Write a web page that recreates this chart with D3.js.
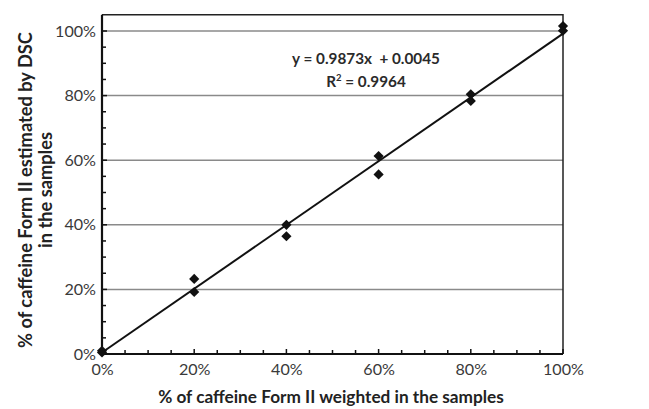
<!DOCTYPE html>
<html>
<head>
<meta charset="utf-8">
<script src="https://cdn.jsdelivr.net/npm/d3@7"></script>
<style>
  body { margin: 0; background: #fff; }
  text { font-family: Lato, "Open Sans", sans-serif; }
</style>
</head>
<body>
<div id="chart"></div>
<script>
// --------------- Data ---------------
const weighted = [0, 0, 0.2, 0.2, 0.4, 0.4, 0.6, 0.6, 0.8, 0.8, 1.0, 1.0];
const estimated = [0.005, 0.01, 0.2325, 0.192, 0.40, 0.3645, 0.613, 0.556, 0.804, 0.7835, 1.0155, 1.001];
const slope = 0.9873;
const intercept = 0.0045;
const xTicks = [0, 0.2, 0.4, 0.6, 0.8, 1.0];
const yTicks = [0, 0.2, 0.4, 0.6, 0.8, 1.0];
const minorTicks = d3.range(0, 1.0001, 0.05);

// --------------- Constants ---------------
const WIDTH = 649;
const HEIGHT = 409;
const LEFT = 102, RIGHT = 563, BOTTOM = 354, TOP100 = 31;

// scale font so the text spans the wanted width (Calibri is not installed)
function fitSize(textSel, target) {
  const w = textSel.node().getComputedTextLength();
  const fs = parseFloat(textSel.style("font-size"));
  return (fs * target) / w;
}

const svg = d3.select("#chart").append("svg")
  .attr("width", WIDTH).attr("height", HEIGHT);

const x = d3.scaleLinear().domain([0, 1]).range([LEFT, RIGHT]);
const y = d3.scaleLinear().domain([0, 1]).range([BOTTOM, TOP100]);
const yTop = y(1.05);

// gridlines
svg.append("g")
  .selectAll("line")
  .data(yTicks.filter((d) => d > 0))
  .enter()
  .append("line")
  .attr("x1", LEFT).attr("x2", RIGHT)
  .attr("y1", (d) => y(d)).attr("y2", (d) => y(d))
  .attr("stroke", "#8a8a8a")
  .attr("stroke-width", 1.5);

// frame top/right
svg.append("path")
  .attr("d", `M${LEFT},${yTop}H${RIGHT}V${BOTTOM}`)
  .attr("fill", "none")
  .attr("stroke", "#222")
  .attr("stroke-width", 1.5);

// axes
const fmt = d3.format(".0%");
const xAxis = svg.append("g")
  .attr("transform", `translate(0,${BOTTOM})`)
  .call(d3.axisBottom(x).tickValues(xTicks).tickFormat(fmt).tickSize(0).tickPadding(10));
const yAxis = svg.append("g")
  .attr("transform", `translate(${LEFT},0)`)
  .call(d3.axisLeft(y).tickValues(yTicks).tickFormat(fmt).tickSize(0).tickPadding(6));

[xAxis, yAxis].forEach((a) => {
  a.select(".domain").remove();
  a.selectAll("text").attr("fill", "#3a3a3a").style("font-size", "14px");
});
const probe = yAxis.selectAll("text").filter((d) => d === 1);
const tickFs = fitSize(probe, 41);
svg.selectAll(".tick text").style("font-size", tickFs + "px");

// inside minor/major ticks
svg.append("g")
  .selectAll("line")
  .data(minorTicks)
  .enter()
  .append("line")
  .attr("x1", (d) => x(d)).attr("x2", (d) => x(d))
  .attr("y1", BOTTOM)
  .attr("y2", (d) => BOTTOM - (Math.round(d * 100) % 20 === 0 ? 5 : 4))
  .attr("stroke", "#111").attr("stroke-width", 1.5);

svg.append("g")
  .selectAll("line")
  .data(minorTicks)
  .enter()
  .append("line")
  .attr("y1", (d) => y(d)).attr("y2", (d) => y(d))
  .attr("x1", LEFT)
  .attr("x2", (d) => LEFT + (Math.round(d * 100) % 20 === 0 ? 5 : 4))
  .attr("stroke", "#111").attr("stroke-width", 1.5);

svg.append("path")
  .attr("d", `M${LEFT},${yTop}V${BOTTOM}H${RIGHT}`)
  .attr("fill", "none")
  .attr("stroke", "#111")
  .attr("stroke-width", 2.2);

// trend line
svg.append("line")
  .attr("x1", x(0)).attr("y1", y(intercept))
  .attr("x2", x(1)).attr("y2", y(slope + intercept))
  .attr("stroke", "#111")
  .attr("stroke-width", 2);

// markers
const diamond = d3.symbol().type(d3.symbolSquare).size(52);
svg.append("g")
  .selectAll("path")
  .data(weighted.map((w, i) => [w, estimated[i]]))
  .enter()
  .append("path")
  .attr("d", diamond)
  .attr("transform", (d) => `translate(${x(d[0])},${y(d[1])}) rotate(45)`)
  .attr("fill", "#111");

// equation
const eq = svg.append("g").attr("font-weight", "bold").attr("fill", "#2a2a2a").style("font-size", "12px");
const eq1 = eq.append("text")
  .attr("x", 366).attr("y", 64)
  .attr("text-anchor", "middle")
  .attr("xml:space", "preserve")
  .text(`y = ${slope}x  + ${intercept.toFixed(4)}`);
const eqFs = fitSize(eq1, 148);
eq.style("font-size", eqFs + "px");
const r2 = eq.append("text")
  .attr("x", 366).attr("y", 87)
  .attr("text-anchor", "middle");
r2.append("tspan").text("R");
r2.append("tspan").attr("dy", -6).style("font-size", eqFs * 0.62 + "px").text("2");
r2.append("tspan").attr("dy", 6).text(" = 0.9964");

// axis titles
const xTitle = svg.append("text")
  .attr("x", 331).attr("y", 403)
  .attr("text-anchor", "middle")
  .attr("font-weight", "bold")
  .attr("fill", "#222")
  .style("font-size", "14px")
  .text("% of caffeine Form II weighted in the samples");
xTitle.style("font-size", fitSize(xTitle, 346) + "px");

const yTitle = svg.append("text")
  .attr("transform", "translate(0,190) rotate(-90)")
  .attr("text-anchor", "middle")
  .attr("font-weight", "bold")
  .attr("fill", "#222")
  .style("font-size", "14px");
const yLine1 = yTitle.append("tspan").attr("x", 0).attr("y", 32)
  .text("% of caffeine Form II estimated by DSC");
const yFs = fitSize(yLine1, 316);
yTitle.style("font-size", yFs + "px");
yTitle.append("tspan").attr("x", 0).attr("y", 32 + yFs * 1.08).text("in the samples");
</script>
</body>
</html>
